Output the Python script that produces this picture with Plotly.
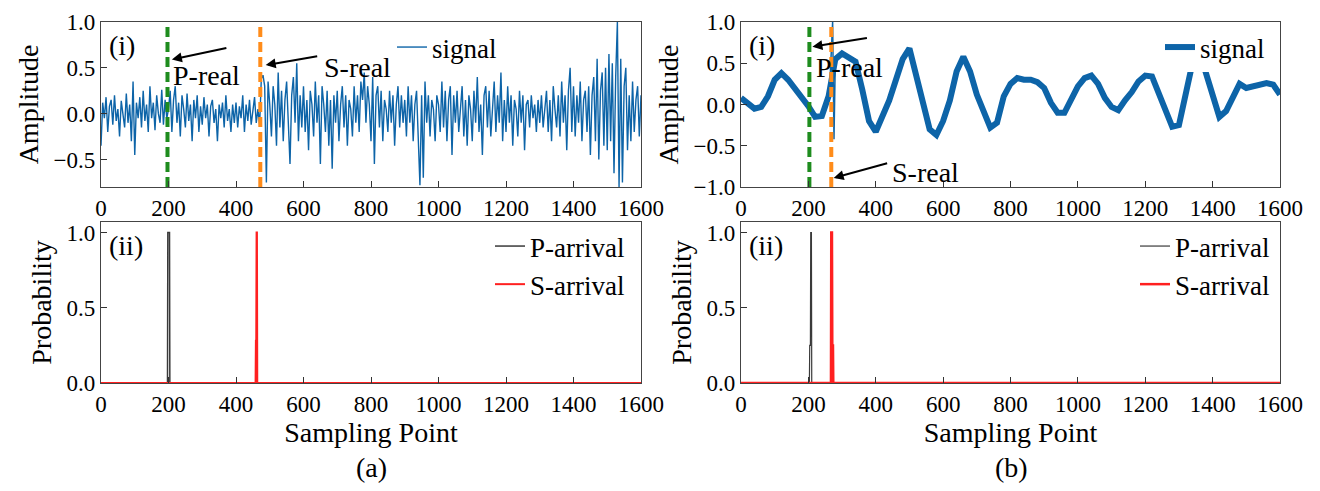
import plotly.graph_objects as go

# ---------------- data ----------------
# (a) noisy signal, sampled every 5 points (0..1600)
sig_a_step = 5
sig_a = [
    -0.35, 0.12, -0.05, 0.18, -0.2, 0.08, 0.15, -0.12, 0.2, -0.08, 0.05, -0.25, 0.14, 0.02, -0.15, 0.22, -0.1, 0.1, -0.3, 0.35,
    -0.45, 0.12, -0.05, 0.18, -0.15, 0.25, -0.08, 0.1, -0.2, 0.3, -0.05, 0.12, -0.18, 0.2, 0.0, -0.1, 0.26, -0.12, 0.15, -0.05,
    0.05, 0.25, -0.2, 0.15, 0.3, -0.1, 0.12, -0.25, 0.2, 0.05, -0.15, 0.22, -0.08, 0.1, -0.3, 0.15, -0.05, 0.2, -0.2, 0.08,
    -0.12, 0.18, -0.05, 0.1, -0.25, 0.08, 0.15, -0.1, 0.05, -0.3, 0.1, -0.05, 0.12, -0.15, 0.2, -0.08, 0.05, -0.2, 0.1, -0.1,
    0.12, -0.15, 0.08, -0.05, 0.2, -0.2, 0.1, -0.08, 0.15, -0.12, 0.05, 0.18, -0.1, 0.05, -0.12, 0.38, 0.42, 0.3, -0.75, 0.35,
    0.1, -0.25, 0.3, 0.1, -0.35, 0.45, -0.15, 0.25, -0.3, 0.15, 0.35, -0.2, -0.55, 0.2, 0.4, -0.1, 0.55, -0.3, 0.2, -0.15,
    0.3, -0.2, 0.15, -0.4, 0.25, 0.1, -0.25, 0.35, -0.1, 0.2, -0.55, 0.3, 0.1, -0.2, 0.25, -0.35, 0.15, -0.6, 0.2, -0.1,
    0.25, -0.3, 0.1, 0.3, -0.15, 0.2, -0.35, 0.15, 0.05, -0.25, 0.3, -0.1, 0.2, -0.2, 0.35, 0.15, 0.45, -0.1, 0.3, 0.1,
    -0.3, 0.4, -0.55, 0.2, 0.3, -0.15, 0.25, -0.3, 0.15, 0.05, -0.2, 0.25, -0.1, 0.2, -0.35, 0.1, 0.3, -0.15, 0.2, -0.1,
    0.15, -0.25, 0.3, -0.1, 0.2, -0.3, 0.1, 0.25, -0.2, -0.78, 0.2, -0.7, 0.35, -0.1, 0.2, -0.25, 0.15, 0.05, -0.3, 0.2,
    0.1, -0.2, 0.35, -0.15, 0.25, -0.3, 0.15, 0.3, -0.45, 0.2, -0.1, 0.25, -0.2, 0.1, 0.3, -0.25, 0.15, -0.35, 0.2, 0.05,
    -0.3, 0.25, -0.1, 0.4, -0.2, 0.1, -0.45, 0.2, 0.3, -0.15, 0.25, -0.25, 0.1, 0.35, -0.2, 0.2, -0.1, 0.45, -0.3, 0.15,
    -0.2, 0.3, -0.1, 0.2, -0.35, 0.15, 0.05, -0.25, 0.25, -0.1, 0.2, -0.4, 0.1, 0.15, -0.15, 0.2, -0.05, 0.1, -0.2, 0.15,
    -0.1, 0.2, -0.15, 0.1, 0.25, -0.2, 0.15, -0.3, 0.3, 0.05, -0.15, 0.2, -0.25, 0.35, -0.1, 0.2, -0.4, 0.25, 0.5, -0.2,
    0.3, -0.25, 0.2, -0.1, 0.35, -0.3, 0.15, 0.25, -0.2, 0.3, -0.45, 0.2, 0.4, -0.3, 0.6, -0.5, 0.25, 0.45, -0.35, 0.5,
    -0.4, 0.65, -0.3, 0.55, -0.65, 0.4, 1.0, -0.8, 0.6, -0.75, 0.3, 0.5, -0.4, 0.2, -0.3, 0.35, -0.2, 0.15, 0.3, -0.25,
    0.2,
]
sig_a_x = [i * sig_a_step for i in range(len(sig_a))]

# (b) wave-like signal (centre of the band), every 20 points
sig_b_x = list(range(0, 1601, 20))
sig_b = [
    0.08, 0.02, -0.05, -0.03, 0.1, 0.3, 0.38, 0.3, 0.2, 0.08,
    -0.02, -0.15, -0.14, 0.1, 0.55, 0.62, 0.58, 0.52, 0.18, -0.2,
    -0.33, -0.15, 0.05, 0.3, 0.55, 0.68, 0.35, 0.0, -0.3, -0.37,
    -0.2, 0.05, 0.4, 0.58, 0.4, 0.12, -0.1, -0.28, -0.22, 0.1,
    0.25, 0.32, 0.3, 0.3, 0.27, 0.2, 0.02, -0.1, -0.1, 0.05,
    0.22, 0.32, 0.35, 0.25, 0.08, -0.03, -0.07, 0.05, 0.15, 0.28,
    0.35, 0.34, 0.15, -0.05, -0.27, -0.25, 0.15, 0.5, 0.65, 0.4,
    0.1, -0.15, -0.08, 0.1, 0.25, 0.2, 0.22, 0.25, 0.26, 0.24,
    0.12,
]
spike_b_x = [262, 272, 276, 280]
spike_b = [0.1, 1.0, -0.42, 0.55]

# probability curves
p_a_x = [0, 197, 198, 203, 204, 1600]
p_a = [0, 0, 1.0, 1.0, 0, 0]
s_a_x = [0, 458, 459, 460, 461, 462, 463, 1600]
s_a = [0, 0, 0.28, 0.28, 1.0, 1.0, 0, 0]
p_b_x = [0, 203, 204, 206, 207, 209, 210, 1600]
p_b = [0, 0, 0.25, 0.25, 1.0, 1.0, 0, 0]
s_b_x = [0, 267, 268, 270, 271, 273, 274, 1600]
s_b = [0, 0, 1.0, 1.0, 0.25, 0.25, 0, 0]

# picked arrivals (dashed lines)
p_real_a, s_real_a = 197, 472
p_real_b, s_real_b = 203, 268

x_ticks = [0, 200, 400, 600, 800, 1000, 1200, 1400, 1600]

# ---------------- figure ----------------
FONT = "Liberation Serif, Times New Roman, DejaVu Serif, serif"
BLUE = "#0d64a8"
GREEN = "#1e8c1e"
ORANGE = "#ff8c1a"
W, H = 1320, 491

def px_x(a, b):
    return [a / W, b / W]

def px_y(top, bottom):
    return [1 - bottom / H, 1 - top / H]

fig = go.Figure()

# top-left signal
fig.add_trace(go.Scatter(x=sig_a_x, y=sig_a, mode="lines", name="signal",
                         line=dict(color=BLUE, width=1.4), xaxis="x", yaxis="y", legend="legend"))
for xv, col in [(p_real_a, GREEN), (s_real_a, ORANGE)]:
    fig.add_trace(go.Scatter(x=[xv, xv], y=[-0.8, 1.0], mode="lines", showlegend=False,
                             line=dict(color=col, width=4, dash="10px,5px"), xaxis="x", yaxis="y"))

# top-right signal
fig.add_trace(go.Scatter(x=sig_b_x, y=sig_b, mode="lines", name="signal",
                         line=dict(color=BLUE, width=6),
                         xaxis="x2", yaxis="y2", legend="legend2"))
fig.add_trace(go.Scatter(x=spike_b_x, y=spike_b, mode="lines", showlegend=False,
                         line=dict(color=BLUE, width=1.5), xaxis="x2", yaxis="y2"))
for xv, col in [(p_real_b, GREEN), (s_real_b, ORANGE)]:
    fig.add_trace(go.Scatter(x=[xv, xv], y=[-1.0, 1.0], mode="lines", showlegend=False,
                             line=dict(color=col, width=4, dash="10px,5px"), xaxis="x2", yaxis="y2"))

# bottom-left probabilities
fig.add_trace(go.Scatter(x=p_a_x, y=p_a, mode="lines", name="P-arrival",
                         line=dict(color="#3a3a3a", width=1.5), xaxis="x3", yaxis="y3", legend="legend3"))
fig.add_trace(go.Scatter(x=s_a_x, y=s_a, mode="lines", name="S-arrival",
                         line=dict(color="#ff2020", width=2), xaxis="x3", yaxis="y3", legend="legend3"))
# bottom-right probabilities
fig.add_trace(go.Scatter(x=p_b_x, y=p_b, mode="lines", name="P-arrival",
                         line=dict(color="#3a3a3a", width=1.2), xaxis="x4", yaxis="y4", legend="legend4"))
fig.add_trace(go.Scatter(x=s_b_x, y=s_b, mode="lines", name="S-arrival",
                         line=dict(color="#ff2020", width=2.5), xaxis="x4", yaxis="y4", legend="legend4"))

tickfont = dict(family=FONT, size=23, color="black")
titlefont = dict(family=FONT, size=28, color="black")
common_ax = dict(showline=True, mirror=True, linecolor="#444", linewidth=1.3,
                 ticks="inside", ticklen=6, tickcolor="#333", tickfont=tickfont,
                 showgrid=False, zeroline=False, automargin=False)

L_X = px_x(101, 641)
R_X = px_x(741, 1280)
T_Y = px_y(22, 187)
B_Y = px_y(222, 383)

def xa(domain, anchor, title=None):
    d = dict(common_ax, domain=domain, anchor=anchor, range=[0, 1600], tickvals=x_ticks)
    if title:
        d["title"] = dict(text=title, font=titlefont, standoff=4)
    return d

def ya(domain, anchor, rng, tv, title):
    return dict(common_ax, domain=domain, anchor=anchor, range=rng, tickvals=tv,
                tickformat=".1f", title=dict(text=title, font=titlefont, standoff=6))

legend_common = dict(font=dict(family=FONT, size=27, color="black"), bgcolor="white",
                     borderwidth=0, xanchor="left", yanchor="top", tracegroupgap=0)

fig.update_layout(
    width=W, height=H, margin=dict(l=0, r=0, t=0, b=0, autoexpand=False),
    paper_bgcolor="white", plot_bgcolor="white",
    font=dict(family=FONT, color="black"),
    xaxis=xa(L_X, "y"), yaxis=ya(T_Y, "x", [-0.8, 1.0], [-0.5, 0, 0.5, 1.0], "Amplitude"),
    xaxis2=xa(R_X, "y2"), yaxis2=ya(T_Y, "x2", [-1.0, 1.0], [-1.0, -0.5, 0, 0.5, 1.0], "Amplitude"),
    xaxis3=xa(L_X, "y3", "Sampling Point"), yaxis3=ya(B_Y, "x3", [0, 1.07], [0, 0.5, 1.0], "Probability"),
    xaxis4=xa(R_X, "y4", "Sampling Point"), yaxis4=ya(B_Y, "x4", [0, 1.07], [0, 0.5, 1.0], "Probability"),
    legend=dict(legend_common, x=392 / W, y=1 - 23 / H),
    legend2=dict(legend_common, x=1160 / W, y=1 - 23 / H),
    legend3=dict(legend_common, x=490 / W, y=1 - 222 / H),
    legend4=dict(legend_common, x=1135 / W, y=1 - 222 / H),
    showlegend=True,
)

ann_font = dict(family=FONT, size=28, color="black")
anns = [
    # panel labels
    dict(text="(i)", xref="paper", yref="paper", x=107 / W, y=1 - 45 / H, xanchor="left", yanchor="middle", showarrow=False, font=ann_font),
    dict(text="(i)", xref="paper", yref="paper", x=747 / W, y=1 - 45 / H, xanchor="left", yanchor="middle", showarrow=False, font=ann_font),
    dict(text="(ii)", xref="paper", yref="paper", x=107 / W, y=1 - 246 / H, xanchor="left", yanchor="middle", showarrow=False, font=ann_font),
    dict(text="(ii)", xref="paper", yref="paper", x=747 / W, y=1 - 246 / H, xanchor="left", yanchor="middle", showarrow=False, font=ann_font),
    dict(text="(a)", xref="paper", yref="paper", x=371 / W, y=1 - 467 / H, xanchor="center", yanchor="middle", showarrow=False, font=ann_font),
    dict(text="(b)", xref="paper", yref="paper", x=1011 / W, y=1 - 467 / H, xanchor="center", yanchor="middle", showarrow=False, font=ann_font),
    # top-left arrows and labels
    dict(text="", x=210, y=0.59, xref="x", yref="y", ax=56, ay=-12, showarrow=True, arrowhead=2, arrowsize=1, arrowwidth=2, arrowcolor="black"),
    dict(text="P-real", x=208, y=0.42, xref="x", yref="y", xanchor="left", yanchor="middle", showarrow=False, font=ann_font),
    dict(text="", x=488, y=0.53, xref="x", yref="y", ax=53, ay=-9, showarrow=True, arrowhead=2, arrowsize=1, arrowwidth=2, arrowcolor="black"),
    dict(text="S-real", x=655, y=0.5, xref="x", yref="y", xanchor="left", yanchor="middle", showarrow=False, font=ann_font),
    # top-right arrows and labels
    dict(text="", x=212, y=0.70, xref="x2", yref="y2", ax=56, ay=-9, showarrow=True, arrowhead=2, arrowsize=1, arrowwidth=2, arrowcolor="black"),
    dict(text="P-real", x=218, y=0.45, xref="x2", yref="y2", xanchor="left", yanchor="middle", showarrow=False, font=ann_font),
    dict(text="", x=275, y=-0.89, xref="x2", yref="y2", ax=55, ay=-15, showarrow=True, arrowhead=2, arrowsize=1, arrowwidth=2, arrowcolor="black"),
    dict(text="S-real", x=442, y=-0.82, xref="x2", yref="y2", xanchor="left", yanchor="middle", showarrow=False, font=ann_font),
]
fig.update_layout(annotations=anns)

fig.write_html("out.html")
